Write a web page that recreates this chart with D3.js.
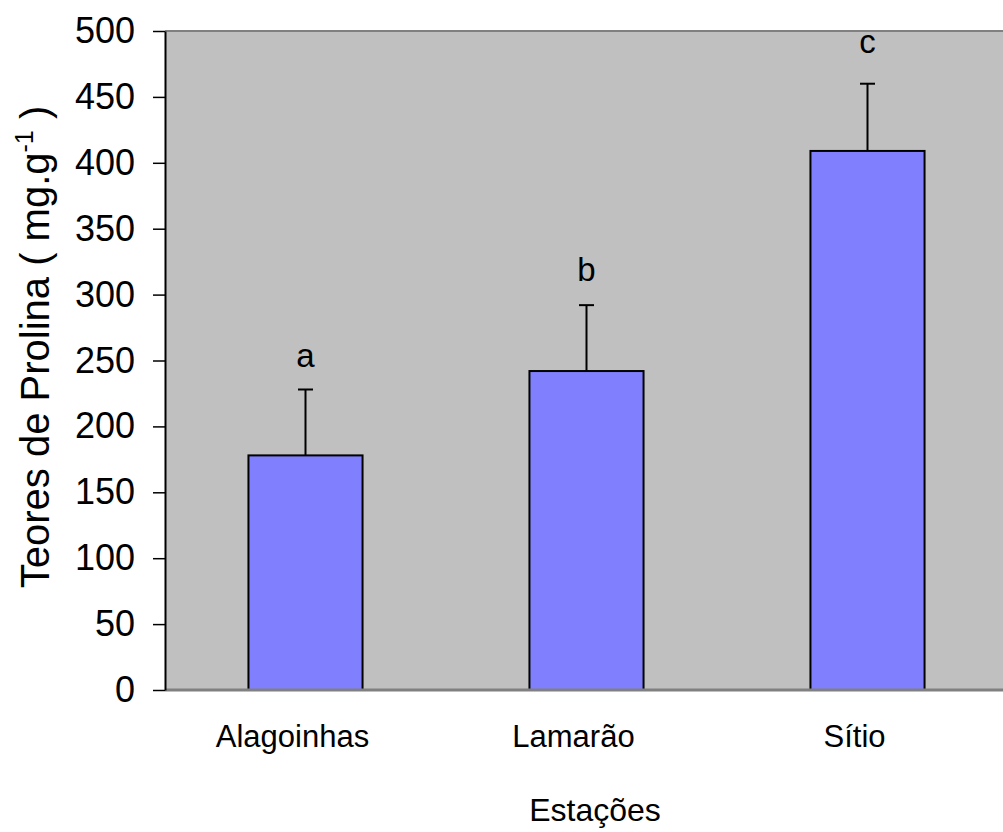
<!DOCTYPE html>
<html>
<head>
<meta charset="utf-8">
<script src="https://cdn.jsdelivr.net/npm/d3@7"></script>
<style>
  body { margin: 0; background: #fff; }
  text { font-family: "Liberation Sans", Arial, sans-serif; fill: #000; }
</style>
</head>
<body>
<svg id="chart" width="1003" height="832"></svg>
<script>
// ---------- data ----------
const stations = ["Alagoinhas", "Lamarão", "Sítio"];
const means = [178, 242, 409];
const errors = [50, 50, 51];
const letters = ["a", "b", "c"];
const letterAt = [245, 310, 483];
const yTicks = [0, 50, 100, 150, 200, 250, 300, 350, 400, 450, 500];

// ---------- layout ----------
const svg = d3.select("#chart");
const plotLeft = 165, plotTop = 31, plotBottom = 690, plotRight = 1008;

const x = d3.scaleBand().domain(stations).range([plotLeft, plotRight]).padding(0);
const y = d3.scaleLinear().domain([0, 500]).range([plotBottom, plotTop]);
const barW = x.bandwidth() * 0.406;

// plot background
svg.append("rect")
  .attr("x", plotLeft).attr("y", plotTop)
  .attr("width", plotRight - plotLeft).attr("height", plotBottom - plotTop)
  .attr("fill", "#c0c0c0");

// top border
svg.append("line")
  .attr("x1", plotLeft).attr("x2", plotRight)
  .attr("y1", plotTop).attr("y2", plotTop)
  .attr("stroke", "#808080").attr("stroke-width", 2);

// bars
const rows = stations.map((s, i) => ({ s, m: means[i], e: errors[i], l: letters[i], ly: letterAt[i] }));

const g = svg.append("g");
g.selectAll("line.err")
  .data(rows)
  .join("line")
  .attr("class", "err")
  .attr("x1", d => x(d.s) + x.bandwidth() / 2)
  .attr("x2", d => x(d.s) + x.bandwidth() / 2)
  .attr("y1", d => y(d.m))
  .attr("y2", d => y(d.m + d.e))
  .attr("stroke", "#000").attr("stroke-width", 2);

g.selectAll("line.cap")
  .data(rows)
  .join("line")
  .attr("class", "cap")
  .attr("x1", d => x(d.s) + x.bandwidth() / 2 - 7.5)
  .attr("x2", d => x(d.s) + x.bandwidth() / 2 + 7.5)
  .attr("y1", d => y(d.m + d.e))
  .attr("y2", d => y(d.m + d.e))
  .attr("stroke", "#000").attr("stroke-width", 2);

g.selectAll("rect.bar")
  .data(rows)
  .join("rect")
  .attr("class", "bar")
  .attr("x", d => x(d.s) + (x.bandwidth() - barW) / 2)
  .attr("y", d => y(d.m))
  .attr("width", barW)
  .attr("height", d => y(0) - y(d.m))
  .attr("fill", "#8080ff")
  .attr("stroke", "#000").attr("stroke-width", 2);

g.selectAll("text.letter")
  .data(rows)
  .join("text")
  .attr("class", "letter")
  .attr("x", d => x(d.s) + x.bandwidth() / 2)
  .attr("y", d => y(d.ly))
  .attr("text-anchor", "middle")
  .attr("font-size", 33)
  .text(d => d.l);

// bottom axis line
svg.append("line")
  .attr("x1", plotLeft).attr("x2", plotRight)
  .attr("y1", plotBottom).attr("y2", plotBottom)
  .attr("stroke", "#808080").attr("stroke-width", 3);

// y axis
const yAxis = svg.append("g")
  .attr("transform", `translate(${plotLeft},0)`)
  .call(d3.axisLeft(y).tickValues(yTicks).tickSize(12).tickPadding(18).tickSizeOuter(0));
yAxis.select(".domain").attr("stroke", "#000").attr("stroke-width", 2);
yAxis.selectAll(".tick line").attr("stroke", "#000").attr("stroke-width", 1.5);
yAxis.selectAll(".tick text")
  .attr("font-size", 36)
  .attr("font-family", "Liberation Sans, Arial, sans-serif")
  .attr("fill", "#000");

// category labels
svg.selectAll("text.cat")
  .data(stations)
  .join("text")
  .attr("class", "cat")
  .attr("x", d => x(d) + x.bandwidth() / 2 - 13)
  .attr("y", 747)
  .attr("text-anchor", "middle")
  .attr("font-size", 31)
  .text(d => d);

// axis titles
svg.append("text")
  .attr("x", 595).attr("y", 821)
  .attr("text-anchor", "middle")
  .attr("font-size", 32)
  .text("Estações");

const yt = svg.append("text")
  .attr("transform", "translate(49,347) rotate(-90)")
  .attr("text-anchor", "middle")
  .attr("font-size", 40);
yt.append("tspan").text("Teores de Prolina ( mg.g");
yt.append("tspan").attr("dy", -16).attr("font-size", 25).text("-1");
yt.append("tspan").attr("dy", 16).text(" )");
</script>
</body>
</html>
